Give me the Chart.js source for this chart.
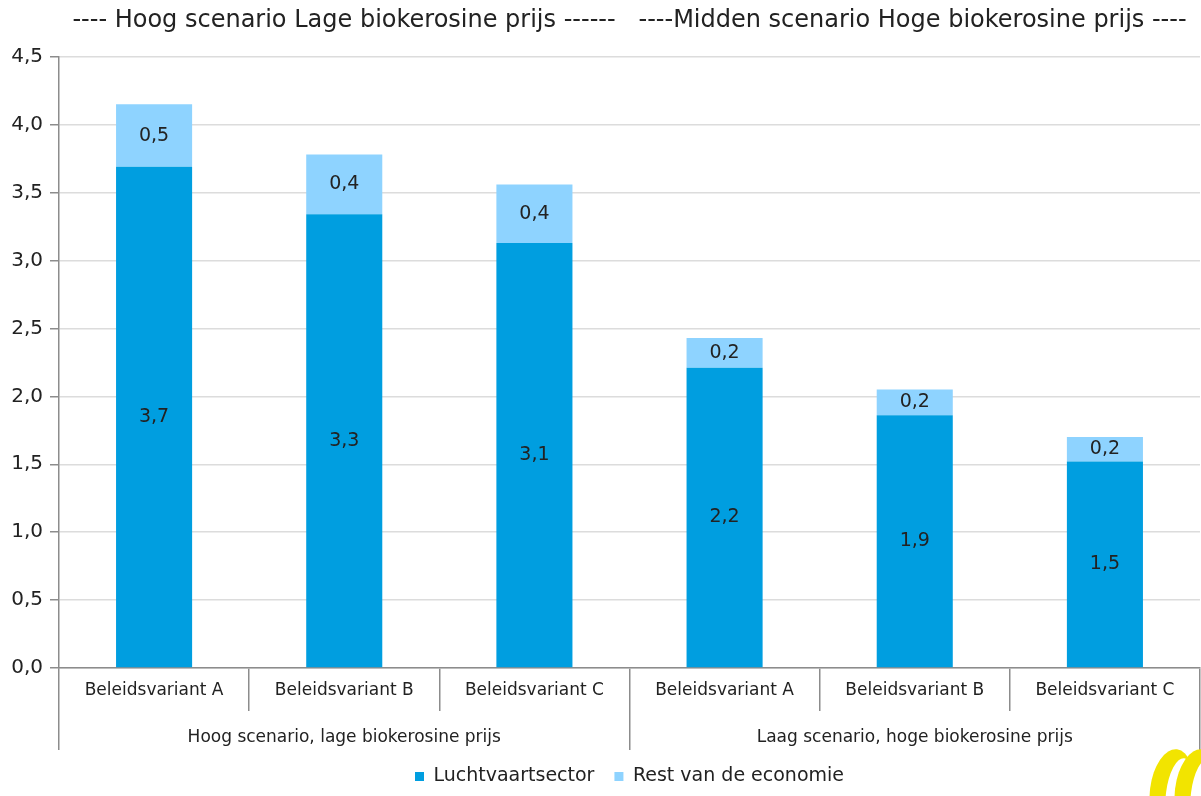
<!DOCTYPE html>
<html>
<head>
<meta charset="utf-8">
<title>Kosten biokerosine</title>
<script src="https://cdn.jsdelivr.net/npm/chart.js@4.4.1/dist/chart.umd.min.js"></script>
<style>
  html, body { margin: 0; padding: 0; background: #ffffff; }
  #wrap { width: 1201px; height: 796px; position: relative; }
</style>
</head>
<body>
<div id="wrap"><canvas id="chart"></canvas></div>
<script>
// Chart data
const variants = ['Beleidsvariant A', 'Beleidsvariant B', 'Beleidsvariant C', 'Beleidsvariant A', 'Beleidsvariant B', 'Beleidsvariant C'];
const scenarios = ['Hoog scenario, lage biokerosine prijs', 'Laag scenario, hoge biokerosine prijs'];
const aviation = [3.69, 3.34, 3.13, 2.21, 1.86, 1.52];
const restOfEconomy = [0.46, 0.44, 0.43, 0.22, 0.19, 0.18];
const seriesNames = ['Luchtvaartsector', 'Rest van de economie'];
const titleText = '---- Hoog scenario Lage biokerosine prijs ------   ----Midden scenario Hoge biokerosine prijs ----';

const FONT = "'DejaVu Sans', sans-serif";
const TEXT = '#222222';
const AXIS = '#8c8c8c';

// Dutch decimal comma
function fmt(v) {
    return v.toFixed(1).replace('.', ',');
}

// Value labels centred in each bar segment
const segmentLabels = {
    id: 'segmentLabels',
    afterDatasetsDraw(chart) {
        const ctx = chart.ctx;
        ctx.save();
        ctx.font = '19px ' + FONT;
        ctx.fillStyle = TEXT;
        ctx.textAlign = 'center';
        ctx.textBaseline = 'middle';
        chart.data.datasets.forEach((ds, i) => {
            const meta = chart.getDatasetMeta(i);
            meta.data.forEach((bar, j) => {
                const p = bar.getProps(['x', 'y', 'base'], true);
                ctx.fillText(fmt(ds.data[j]), p.x, (p.y + p.base) / 2);
            });
        });
        ctx.restore();
    }
};

// Ring logo in the bottom right corner
function ring(ctx, cx, cy) {
    ctx.fillStyle = '#f2e400';
    ctx.beginPath();
    ctx.ellipse(cx, cy, 22, 42, 0.12, 0, Math.PI * 2);
    ctx.fill();
    ctx.fillStyle = '#ffffff';
    ctx.beginPath();
    ctx.ellipse(cx + 8, cy + 3, 14, 36, 0.12, 0, Math.PI * 2);
    ctx.fill();
}

const logo = {
    id: 'logo',
    afterDraw(chart) {
        const ctx = chart.ctx;
        ctx.save();
        ring(ctx, 1172, 791);
        ring(ctx, 1197, 791);
        ctx.restore();
    }
};

const ctx = document.getElementById('chart').getContext('2d');
new Chart(ctx, {
    type: 'bar',
    data: {
        labels: variants,
        datasets: [
            {
                label: seriesNames[0],
                data: aviation,
                backgroundColor: '#009ee0',
                barPercentage: 0.4,
                categoryPercentage: 1
            },
            {
                label: seriesNames[1],
                data: restOfEconomy,
                backgroundColor: '#8ed3ff',
                barPercentage: 0.4,
                categoryPercentage: 1
            }
        ]
    },
    options: {
        responsive: true,
        maintainAspectRatio: false,
        animation: false,
        layout: { padding: { left: 0, right: 1, top: 0, bottom: 0 } },
        plugins: {
            title: {
                display: true,
                text: titleText,
                fullSize: false,
                color: TEXT,
                font: { family: FONT, size: 24, weight: 'normal' },
                padding: { top: 6, bottom: 22 }
            },
            legend: {
                position: 'bottom',
                fullSize: false,
                labels: {
                    color: TEXT,
                    font: { family: FONT, size: 19 },
                    boxWidth: 9,
                    boxHeight: 9,
                    padding: 20
                }
            },
            tooltip: { enabled: false }
        },
        scales: {
            x: {
                stacked: true,
                offset: true,
                border: { color: AXIS, width: 1.5 },
                grid: {
                    offset: true,
                    drawOnChartArea: false,
                    tickLength: 43,
                    color: AXIS,
                    lineWidth: 1.5
                },
                ticks: {
                    color: TEXT,
                    font: { family: FONT, size: 17 },
                    padding: -31,
                    autoSkip: false,
                    maxRotation: 0
                },
                afterFit(scale) { scale.height = 43; }
            },
            x2: {
                type: 'category',
                labels: scenarios,
                position: 'bottom',
                offset: true,
                border: { display: false },
                grid: {
                    offset: true,
                    drawOnChartArea: false,
                    tickLength: 39,
                    color: AXIS,
                    lineWidth: 1.5
                },
                ticks: {
                    color: TEXT,
                    font: { family: FONT, size: 17 },
                    padding: -23,
                    autoSkip: false,
                    maxRotation: 0
                },
                afterFit(scale) { scale.height = 36; }
            },
            y: {
                stacked: true,
                min: 0,
                max: 4.5,
                border: { color: AXIS, width: 1.5 },
                grid: {
                    color: '#dcdcdc',
                    lineWidth: 1.5,
                    tickLength: 9,
                    tickColor: AXIS
                },
                ticks: {
                    stepSize: 0.5,
                    color: TEXT,
                    font: { family: FONT, size: 20 },
                    padding: 7,
                    callback: (v) => fmt(v)
                },
                afterFit(scale) { scale.width = 59; }
            }
        }
    },
    plugins: [segmentLabels, logo]
});
</script>
</body>
</html>
